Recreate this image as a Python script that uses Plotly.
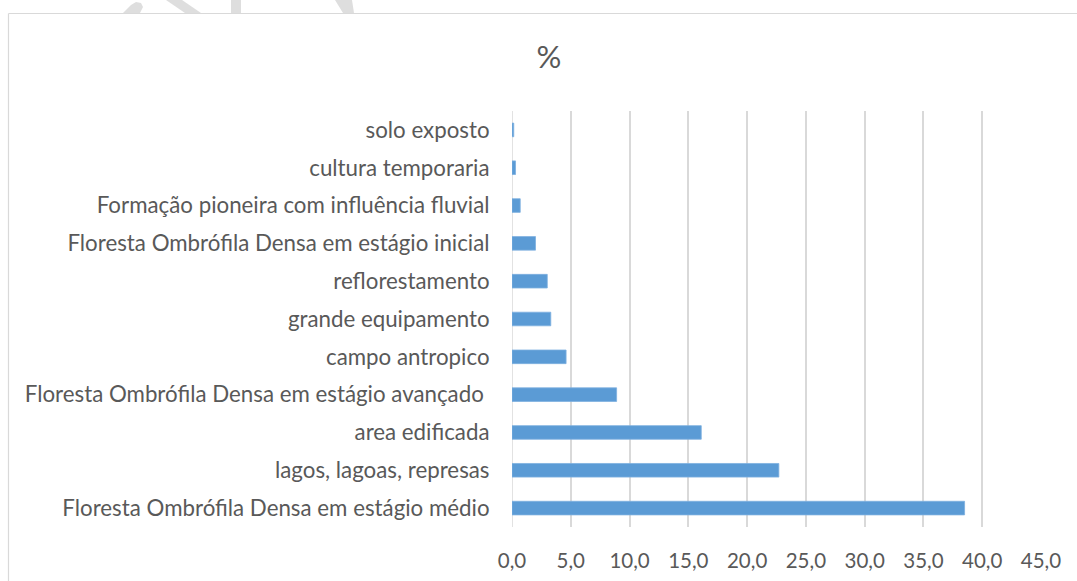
import plotly.graph_objects as go

# Land-use classes (bottom to top) and their share of the area, in %
classes = [
    "Floresta Ombrófila Densa em estágio médio",
    "lagos, lagoas, represas",
    "area edificada",
    "Floresta Ombrófila Densa em estágio avançado\u00a0",
    "campo antropico",
    "grande equipamento",
    "reflorestamento",
    "Floresta Ombrófila Densa em estágio inicial",
    "Formação pioneira com influência fluvial",
    "cultura temporaria",
    "solo exposto",
]
percent = [38.5, 22.7, 16.1, 8.9, 4.6, 3.3, 3.0, 2.0, 0.7, 0.3, 0.15]

x_ticks = [0, 5, 10, 15, 20, 25, 30, 35, 40, 45]

W, H = 1077, 581
L, R, T, B = 512, 36, 111, 54
PW, PH = W - L - R, H - T - B


def px(x):
    return (x - L) / PW


def py(y):
    return (H - B - y) / PH


TEXT = "#595959"
GRID = "#d9d9d9"
FONT = "Lato, Calibri, Carlito, sans-serif"

fig = go.Figure(
    go.Bar(
        x=percent,
        y=classes,
        orientation="h",
        marker=dict(color="#5b9bd5", line=dict(color="#7eb0e0", width=0.8)),
        width=0.36,
        hoverinfo="x+y",
    )
)


def poly(points):
    d = "M " + " L ".join(f"{px(a):.5f},{py(b):.5f}" for a, b in points) + " Z"
    return dict(type="path", xref="paper", yref="paper", path=d,
                fillcolor="#dedede", line=dict(width=0), layer="below")


shapes = [
    # faint background strokes above the chart frame
    poly([(123, 13), (131, 5), (136, 2), (141, 3), (143, 7), (140, 13)]),
    poly([(166, 0), (182, 0), (201, 13), (185, 13)]),
    poly([(231, 0), (241, 0), (241, 13), (231, 13)]),
    poly([(335, 0), (352, 0), (354, 13), (343, 13)]),
    # chart frame
    dict(type="line", xref="paper", yref="paper",
         x0=px(8.5), x1=px(W + 5), y0=py(13.5), y1=py(13.5),
         line=dict(color=GRID, width=1.2)),
    dict(type="line", xref="paper", yref="paper",
         x0=px(8.5), x1=px(8.5), y0=py(13.5), y1=py(H + 5),
         line=dict(color=GRID, width=1.2)),
]

fig.update_layout(
    width=W,
    height=H,
    margin=dict(l=L, r=R, t=T, b=B, autoexpand=False),
    paper_bgcolor="white",
    plot_bgcolor="white",
    separators=",.",
    showlegend=False,
    bargap=0.64,
    font=dict(family=FONT, size=22, color=TEXT),
    title=dict(
        text="%",
        xref="container",
        x=549 / W,
        xanchor="center",
        yref="container",
        y=1 - 57 / H,
        yanchor="middle",
        font=dict(family=FONT, size=31, color=TEXT),
    ),
    shapes=shapes,
    xaxis=dict(
        range=[0, 45],
        tickvals=x_ticks,
        tickformat=".1f",
        automargin=False,
        showgrid=True,
        gridcolor=GRID,
        gridwidth=1.5,
        zeroline=False,
        showline=False,
        ticks="outside",
        ticklen=15,
        tickcolor="rgba(0,0,0,0)",
        tickfont=dict(family=FONT, size=20.5, color=TEXT),
    ),
    yaxis=dict(
        automargin=False,
        showgrid=False,
        zeroline=False,
        showline=False,
        ticks="outside",
        ticklen=17,
        tickcolor="rgba(0,0,0,0)",
        tickfont=dict(family=FONT, size=22.3, color=TEXT),
    ),
)

# the value axis line at 0 drawn as a grid-coloured rule
fig.add_shape(type="line", xref="x", yref="paper", x0=0, x1=0, y0=0, y1=1,
              line=dict(color=GRID, width=1.5), layer="below")

fig.write_html("out.html")
